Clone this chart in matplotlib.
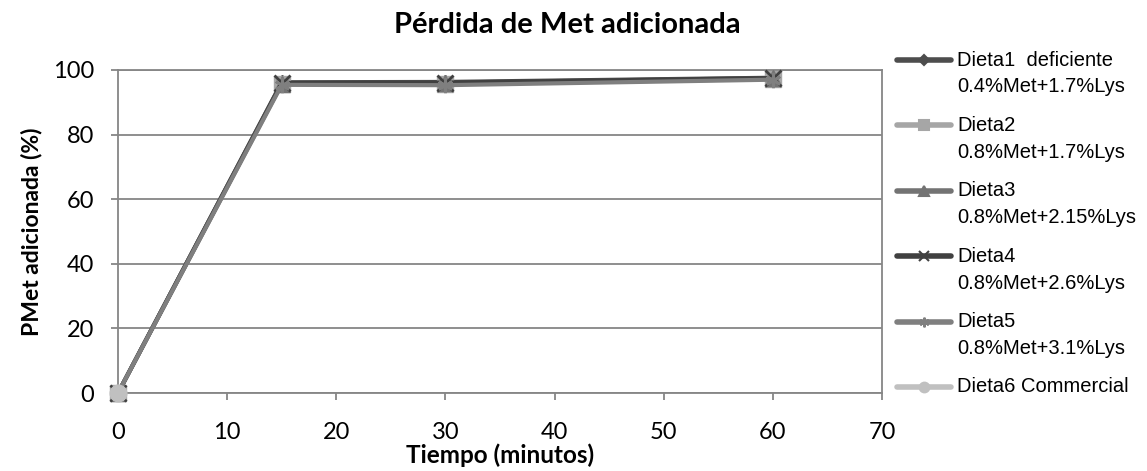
import matplotlib.pyplot as plt
from matplotlib.lines import Line2D

# tiempo de muestreo (minutos) y pérdida de Met adicionada (%)
tiempo = [0, 15, 30, 60]
dieta1 = [0, 96.2, 96.3, 97.6]
dieta2 = [0, 95.6, 95.6, 97.2]
dieta3 = [0, 95.8, 95.9, 97.4]
dieta4 = [0, 96.0, 96.1, 97.5]
dieta5 = [0, 95.4, 95.3, 97.0]
dieta6 = [0]

etiquetas = [('Dieta1  deficiente', '0.4%Met+1.7%Lys'),
             ('Dieta2', '0.8%Met+1.7%Lys'),
             ('Dieta3', '0.8%Met+2.15%Lys'),
             ('Dieta4', '0.8%Met+2.6%Lys'),
             ('Dieta5', '0.8%Met+3.1%Lys'),
             ('Dieta6 Commercial', '')]

x_ticks = [0, 10, 20, 30, 40, 50, 60, 70]
y_ticks = [0, 20, 40, 60, 80, 100]

colores = ['#4d4d4d', '#a6a6a6', '#737373', '#404040', '#7f7f7f', '#c0c0c0']
marcadores = ['D', 's', '^', 'x', (6, 2, 0), 'o']
tamanos = [7, 11, 11, 11, 11, 12]

plt.rcParams['font.family'] = ['Lato', 'DejaVu Sans']

W, H = 1147, 471
fig = plt.figure(figsize=(W / 100, H / 100), dpi=100)
ax = fig.add_axes([0.1029, 0.1656, 0.6661, 0.6858])

series = [dieta1, dieta2, dieta3, dieta4, dieta5]
for i, y in enumerate(series):
    ax.plot(tiempo, y, color=colores[i], linewidth=3, marker=marcadores[i],
            markersize=tamanos[i], markeredgewidth=2 if i in (3, 4) else 1,
            markeredgecolor=colores[i], zorder=3, clip_on=False)
ax.plot(tiempo[:1], dieta6, color=colores[5], linewidth=3, marker='o',
        markersize=12, zorder=4, clip_on=False)

ax.set_xlim(0, 70)
ax.set_ylim(0, 100)
ax.set_xticks(x_ticks)
ax.set_yticks(y_ticks)
ax.tick_params(labelsize=17, color='#868686', length=5, width=1.3)
ax.tick_params(axis='y', pad=12)
ax.tick_params(axis='x', pad=16)
ax.grid(axis='y', color='#868686', linewidth=1.3)
ax.set_axisbelow(True)
for s in ax.spines.values():
    s.set_color('#868686')
    s.set_linewidth(1.3)

# título centrado sobre todo el gráfico, no sólo sobre el área de trazado
fig.text(567 / W, 1 - 33 / H, 'Pérdida de Met adicionada', fontsize=21,
         fontweight='bold', ha='center', va='baseline')
ax.set_xlabel('Tiempo (minutos)', fontsize=17.5, fontweight='bold', labelpad=0)
ax.set_ylabel('PMet adicionada (%)', fontsize=16.5, fontweight='bold', labelpad=8)

# leyenda dibujada a mano: muestra alineada con la primera línea del texto
x0, x1, xt = 897, 951, 957
y_inicio, paso, interlinea = 60, 65.4, 27
for i, (l1, l2) in enumerate(etiquetas):
    yp = H - (y_inicio + i * paso)
    fig.add_artist(Line2D([x0 / W, x1 / W], [yp / H, yp / H], color=colores[i],
                          linewidth=4, solid_capstyle='round'))
    fig.add_artist(Line2D([(x0 + x1) / 2 / W], [yp / H], color=colores[i],
                          marker=marcadores[i], markersize=5 if i == 0 else 7,
                          markeredgewidth=1.5, markeredgecolor=colores[i]))
    fig.text(xt / W, yp / H, l1, fontsize=14.5, family='Liberation Sans',
             va='center', ha='left')
    if l2:
        fig.text(xt / W, (yp - interlinea) / H, l2, fontsize=14.5,
                 family='Liberation Sans', va='center', ha='left')

fig.savefig('out.png', dpi=100)
